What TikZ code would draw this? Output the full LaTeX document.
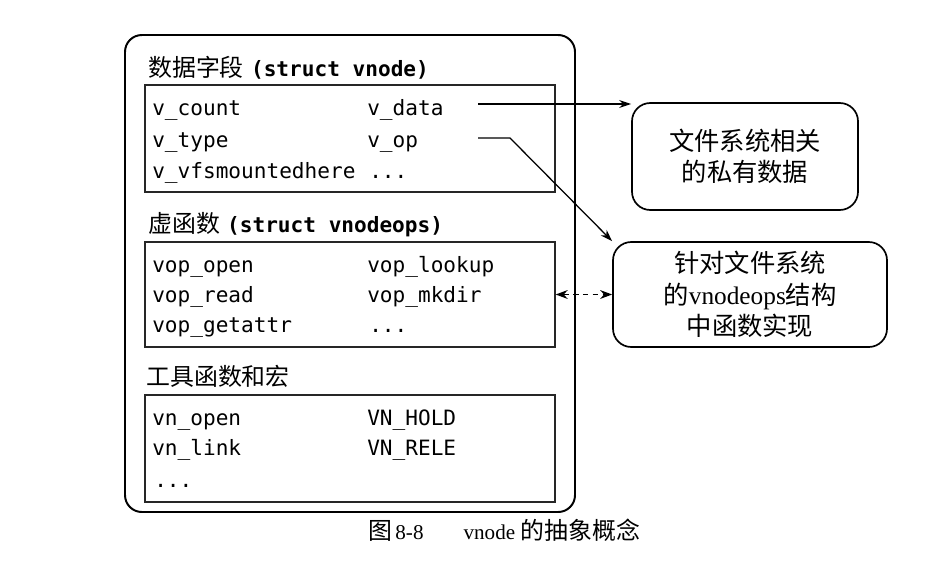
\documentclass[tikz,border=0pt]{standalone}
\usepackage{fontspec}
\setmonofont{DejaVu Sans Mono}
\newfontfamily\cjk{Noto Sans CJK SC}
\newfontfamily\timesfont{Liberation Serif}
\usetikzlibrary{arrows.meta,fit,positioning}
\tikzset{
  outer/.style = {rectangle, rounded corners=12pt, draw=black, line width=1.4pt, inner sep=0pt},
  grp/.style   = {rectangle, draw=black!85, line width=0.9pt, inner sep=0pt},
  rbox/.style  = {rectangle, rounded corners=13pt, draw=black, line width=1.2pt, inner sep=0pt},
  rtext/.style = {align=center, inner sep=0pt, font=\fontsize{18}{22.5}\selectfont\cjk},
  ttl/.style   = {anchor=base west, inner sep=0pt, font=\fontsize{17}{20}\selectfont\cjk},
  item/.style  = {anchor=base west, inner sep=0pt, font=\fontsize{15}{18}\selectfont\ttfamily},
  fl/.style    = {-{Stealth[length=3mm,width=2mm]}, line width=0.9pt},
  fld/.style   = {{Stealth[length=3mm,width=2.2mm]}-{Stealth[length=3mm,width=2.2mm]}, line width=1pt,
                  dash pattern=on 4pt off 3pt},
}

\begin{document}
\begin{tikzpicture}[x=0.025cm, y=-0.025cm]
  \useasboundingbox (0,0) rectangle (952,572);

  \node[outer, fit={(125,35) (575,512)}] (vnode) {};

  % data fields
  \node[ttl] (ttldata) at (148,76) {数据字段\hspace{0.3em}{\ttfamily\bfseries\fontsize{15}{17}\selectfont (struct vnode)}};
  \node[grp, fit={(145,85) (555,192)}] (databox) {};
  \node[item] (vcount) at (152,115) {v\_count};
  \node[item] (vdata)  at (367,115) {v\_data};
  \node[item] (vtype)  at (152,147) {v\_type};
  \node[item] (vop)    at (367,147) {v\_op};
  \node[item] (vvfs)   at (152,178) {v\_vfsmountedhere};
  \node[item] (vdots)  at (369,178) {...};

  % virtual functions
  \node[ttl] (ttlops) at (148,232) {虚函数\hspace{0.3em}{\ttfamily\bfseries\fontsize{15}{17}\selectfont (struct vnodeops)}};
  \node[grp, fit={(145,242) (555,347)}] (opsbox) {};
  \node[item] (vopopen)  at (152,272) {vop\_open};
  \node[item] (voplook)  at (367,272) {vop\_lookup};
  \node[item] (vopread)  at (152,302) {vop\_read};
  \node[item] (vopmkdir) at (367,302) {vop\_mkdir};
  \node[item] (vopget)   at (152,332) {vop\_getattr};
  \node[item] (vopdots)  at (369,332) {...};

  % utilities
  \node[ttl] (ttlutil) at (146,385) {工具函数和宏};
  \node[grp, fit={(145,395) (555,502)}] (utilbox) {};
  \node[item] (vnopen) at (152,425) {vn\_open};
  \node[item] (vnhold) at (367,425) {VN\_HOLD};
  \node[item] (vnlink) at (152,455) {vn\_link};
  \node[item] (vnrele) at (367,455) {VN\_RELE};
  \node[item] (vndots) at (154,487) {...};

  % file system side
  \node[rbox, fit={(632,103) (858,210)}] (fsdata) {};
  \node[rtext] (fsdatatxt) at (fsdata.center) {文件系统相关\\的私有数据};
  \node[rbox, fit={(613,242) (887,347)}] (fsops) {};
  \node[rtext] (fsopstxt) at (fsops.center) {针对文件系统\\的{\timesfont vnodeops}结构\\中函数实现};

  \coordinate (datafrom) at (478,104);
  \coordinate (opfrom)   at (478,138);
  \coordinate (opbend)   at (510,138);

  \draw[fl] (datafrom) -- (datafrom -| fsdata.west);
  \draw[fl] (opfrom) -- (opbend) -- (fsops.north west);
  \draw[fld] (opsbox.east) -- (fsops.west);

  \node[font=\fontsize{15}{18}\selectfont\timesfont] (caption) at (504,530)
    {{\cjk\fontsize{17}{20}\selectfont 图}\,8-8\hspace{1.9em}vnode {\cjk\fontsize{17}{20}\selectfont 的抽象概念}};

\end{tikzpicture}
\end{document}
